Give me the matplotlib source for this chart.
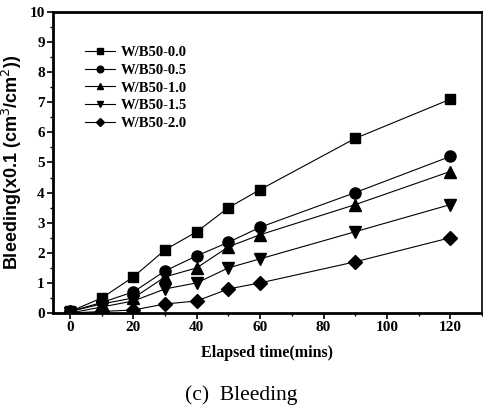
import matplotlib
matplotlib.use("Agg")
import matplotlib.pyplot as plt
from matplotlib.ticker import MultipleLocator

time = [0, 10, 20, 30, 40, 50, 60, 90, 120]
labels = ["W/B50-0.0", "W/B50-0.5", "W/B50-1.0", "W/B50-1.5", "W/B50-2.0"]
s00 = [0.05, 0.5, 1.2, 2.1, 2.7, 3.5, 4.1, 5.8, 7.1]
s05 = [0.05, 0.35, 0.7, 1.4, 1.9, 2.35, 2.85, 4.0, 5.2]
s10 = [0.05, 0.3, 0.5, 1.2, 1.5, 2.2, 2.6, 3.6, 4.7]
s15 = [0.0, 0.2, 0.4, 0.8, 1.0, 1.5, 1.8, 2.7, 3.6]
s20 = [0.0, 0.05, 0.1, 0.3, 0.4, 0.8, 1.0, 1.7, 2.5]
series = [s00, s05, s10, s15, s20]
markers = ["s", "o", "^", "v", "D"]
msizes = [7, 8, 8, 8, 7]

serif = "Liberation Serif"
fig = plt.figure(figsize=(4.83, 4.12), dpi=100)
ax = fig.add_axes([0.1097, 0.2403, 0.888, 0.7306])

for ys, lab, m, ms in zip(series, labels, markers, msizes):
    ax.plot(time, ys, color="black", lw=0.8, marker=m, ms=ms, label=lab,
            markeredgecolor="black")

ax.set_xlim(-5.4, 130)
ax.set_ylim(0, 10)
ax.xaxis.set_major_locator(MultipleLocator(20))
ax.xaxis.set_minor_locator(MultipleLocator(10))
ax.yaxis.set_major_locator(MultipleLocator(1))
ax.yaxis.set_minor_locator(MultipleLocator(0.5))
ax.tick_params(which="major", direction="out", length=4, width=1.2, pad=2)
ax.tick_params(which="minor", direction="out", length=2.5, width=1)
for sp in ax.spines.values():
    sp.set_linewidth(1.2)
ax.spines["top"].set_linewidth(2)
ax.spines["bottom"].set_linewidth(2)
ax.spines["left"].set_linewidth(2)

for t in ax.get_xticklabels() + ax.get_yticklabels():
    t.set_fontfamily(serif)
    t.set_fontweight("bold")
    t.set_fontsize(11)

ax.set_xlabel("Elapsed time(mins)", fontfamily=serif, fontweight="bold", fontsize=11.5, labelpad=8)
ax.set_ylabel("Bleeding(x0.1 (cm$^3$/cm$^2$))", fontfamily="Liberation Sans", fontsize=13,
              fontweight="bold", labelpad=4)

leg = ax.legend(loc="upper left", bbox_to_anchor=(0.045, 0.93), frameon=False,
                prop={"family": serif, "weight": "bold", "size": 10.5},
                handlelength=2.0, handletextpad=0.4, labelspacing=0.3, markerscale=0.6)

fig.text(0.5, 0.04, "(c)  Bleeding", ha="center", va="center", fontfamily=serif, fontsize=15.5)

fig.savefig("out.png", dpi=100)
